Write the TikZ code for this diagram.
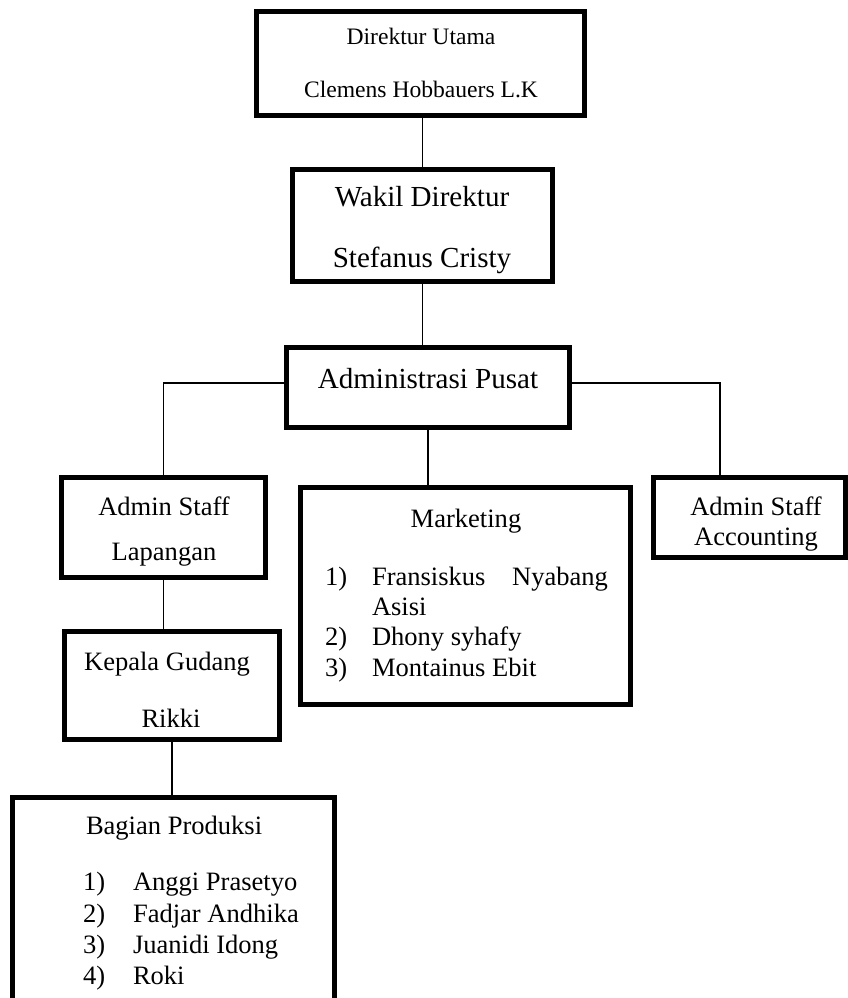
\documentclass[tikz,border=0pt]{standalone}
\usepackage{fontspec}
\setmainfont{Liberation Serif}
\usetikzlibrary{fit}
\begin{document}
\begin{tikzpicture}[x=0.75pt,y=-0.75pt,
  box/.style={draw=black, line width=3.75pt, inner sep=0pt, outer sep=0pt},
  conn/.style={draw=black, line width=1.2pt},
  lbl/.style={anchor=base, inner sep=0pt, outer sep=0pt},
  lbll/.style={anchor=base west, inner sep=0pt, outer sep=0pt},
  lblr/.style={anchor=base east, inner sep=0pt, outer sep=0pt},
  fs/.style={font=\fontsize{17.7}{20}\selectfont},
  fl/.style={font=\fontsize{21.8}{26}\selectfont},
  fm/.style={font=\fontsize{19.9}{24}\selectfont}]
\useasboundingbox (0,0) rectangle (848,998);

% boxes
\node[box, fit={(256.5,11.5) (584.5,115.5)}] (dir) {};
\node[box, fit={(292.5,169.5) (552.5,281.5)}] (wakil) {};
\node[box, fit={(286.5,347.5) (569.5,427.5)}] (admin) {};
\node[box, fit={(61.5,477.5) (265.5,577.5)}] (lap) {};
\node[box, fit={(64.5,631.5) (279.5,739.5)}] (kep) {};
\node[box, fit={(12.5,797.5) (334.5,1020)}] (bag) {};
\node[box, fit={(300.5,487.5) (630.5,704.5)}] (mkt) {};
\node[box, fit={(653.5,477.5) (845.5,557.5)}] (acc) {};

% connectors
\coordinate (aL) at (163.5,383);
\coordinate (aR) at (720,383);
\draw[conn] (wakil.north) -- (wakil.north |- dir.south);
\draw[conn] (wakil.south) -- (wakil.south |- admin.north);
\draw[conn] (admin.west |- aL) -- (aL) -- (aL |- lap.north);
\draw[conn] (admin.east |- aR) -- (aR) -- (aR |- acc.north);
\draw[conn] (admin.south) -- (admin.south |- mkt.north);
\draw[conn] (lap.south) -- (lap.south |- kep.north);
\draw[conn] (kep.south) -- (kep.south |- bag.north);

% texts
\node[lbl, fs] (t1a) at (421,45) {Direktur Utama};
\node[lbl, fs] (t1b) at (421,98) {Clemens Hobbauers L.K};
\node[lbl, fl] (t2a) at (422,207) {Wakil Direktur};
\node[lbl, fl] (t2b) at (422,268) {Stefanus Cristy};
\node[lbl, fl] (t3) at (428,388) {Administrasi Pusat};
\node[lbl, fm] (t4a) at (164,515) {Admin Staff};
\node[lbl, fm] (t4b) at (164,560) {Lapangan};
\node[lbl, fm] (t5a) at (167,670) {Kepala Gudang};
\node[lbl, fm] (t5b) at (171,727) {Rikki};
\node[lbl, fm] (t6a) at (756,515) {Admin Staff};
\node[lbl, fm] (t6b) at (756,545) {Accounting};

\node[lbl, fm] (t7) at (466,527) {Marketing};
\node[lbll, fm] (m1n) at (325,585) {1)};
\node[lbll, fm] (m1a) at (372,585) {Fransiskus};
\node[lblr, fm] (m1b) at (608,585) {Nyabang};
\node[lbll, fm] (m1c) at (372,615) {Asisi};
\node[lbll, fm] (m2n) at (325,645) {2)};
\node[lbll, fm] (m2a) at (372,645) {Dhony syhafy};
\node[lbll, fm] (m3n) at (325,676) {3)};
\node[lbll, fm] (m3a) at (372,676) {Montainus Ebit};

\node[lbll, fm] (t8) at (86,834) {Bagian Produksi};
\node[lbll, fm] (b1n) at (83,890) {1)};
\node[lbll, fm] (b1a) at (133,890) {Anggi Prasetyo};
\node[lbll, fm] (b2n) at (83,922) {2)};
\node[lbll, fm] (b2a) at (133,922) {Fadjar Andhika};
\node[lbll, fm] (b3n) at (83,953) {3)};
\node[lbll, fm] (b3a) at (133,953) {Juanidi Idong};
\node[lbll, fm] (b4n) at (83,984) {4)};
\node[lbll, fm] (b4a) at (133,984) {Roki};
\end{tikzpicture}
\end{document}
